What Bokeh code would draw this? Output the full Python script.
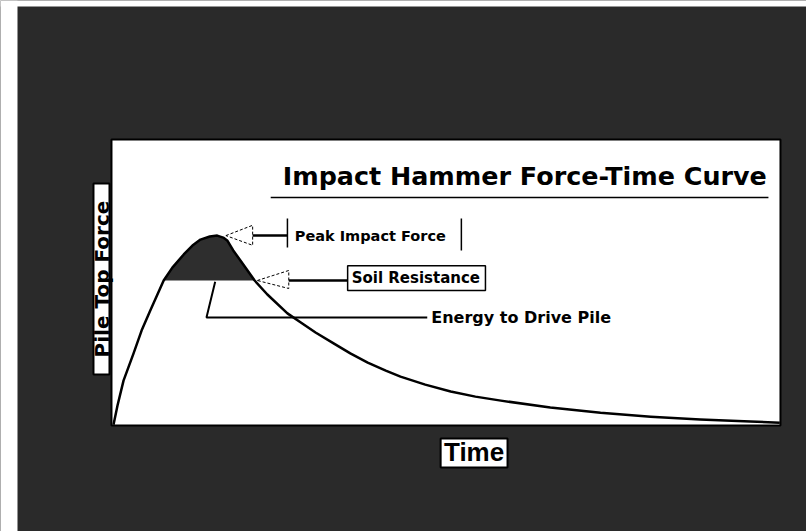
import math
from bokeh.plotting import figure
from bokeh.models import Range1d, Label, BoxAnnotation
from bokeh.embed import file_html
from bokeh.resources import INLINE

# ---- data (time and force in relative units) ----
time = [0.3, 0.9, 1.8, 3.3, 4.5, 5.8, 7.8, 9.1, 10.8, 12.1, 13.3, 14.7, 15.8,
        16.7, 17.3, 18.2, 19.7, 21.4, 23.3, 26.3, 28.3, 30.5, 33.2, 35.7,
        38.3, 41.0, 43.2, 46.9, 50.7, 54.4, 58.2, 65.6, 73.1, 80.6, 88.0,
        95.5, 99.9]
force = [0.3, 7.0, 15.7, 25.2, 33.2, 40.2, 50.7, 55.2, 59.8, 62.9, 65.0, 66.1,
         66.4, 65.7, 64.7, 61.2, 56.3, 50.7, 45.8, 39.2, 36.0, 32.5, 28.7,
         25.2, 22.0, 19.2, 17.1, 14.3, 11.9, 10.1, 8.7, 6.3, 4.5, 3.1, 2.1,
         1.4, 1.0]
soil_resistance = 50.7

title_text = "Impact Hammer Force-Time Curve"
x_label = "Time"
y_label = "Pile Top Force"
peak_text = "Peak Impact Force"
soil_text = "Soil Resistance"
energy_text = "Energy to Drive Pile"

DARK = "#2a2a2a"

p = figure(width=806, height=531, output_backend="svg", toolbar_location=None,
           x_axis_type=None, y_axis_type=None,
           x_range=Range1d(-16.59, 103.89), y_range=Range1d(-37.06, 148.6),
           min_border=0)
p.grid.visible = False
p.background_fill_color = DARK
p.border_fill_color = DARK
p.outline_line_color = None


def box(**kw):
    args = dict(fill_color="white", fill_alpha=1, line_color=None,
                line_alpha=1, level="underlay")
    args.update(kw)
    p.add_layout(BoxAnnotation(**args))


# white page margins of the scan (left and top) and the white chart panel
box(right=-14.05)
box(bottom=146.5)
box(left=0, right=100, bottom=0, top=100, line_color="black", line_width=2)

# energy region between curve and soil resistance level
sel = [(t, f) for t, f in zip(time, force) if f >= soil_resistance]
fill_t = [t for t, f in sel]
fill_f = [f for t, f in sel]
p.varea(x=fill_t, y1=[soil_resistance] * len(fill_t), y2=fill_f,
        fill_color="#2e2e2e")

# force-time curve
p.line(time, force, line_color="black", line_width=2.5, line_join="round")

# ---- peak annotation ----
pk_i = force.index(max(force))
pk_t, pk_f = time[pk_i], force[pk_i]
tip = pk_t + 1.3
p.line([tip, tip + 4.0, tip + 4.0, tip], [pk_f, pk_f + 3.6, pk_f - 3.4, pk_f],
       line_color="black", line_width=1, line_dash="3 2")
p.line([tip + 4.0, 26.3], [pk_f, pk_f], line_color="black", line_width=2.5)
p.line([26.3, 26.3], [pk_f + 6.0, pk_f - 4.2], line_color="black", line_width=1.5)
p.line([52.3, 52.3], [pk_f + 6.0, pk_f - 5.2], line_color="black", line_width=1.5)
p.add_layout(Label(x=27.4, y=pk_f, text=peak_text, text_font="DejaVu Sans",
                   text_font_style="bold", text_font_size="14.5px",
                   text_baseline="middle", text_color="black"))

# ---- soil resistance annotation ----
st = 21.8
p.line([st, st + 4.7, st + 4.7, st],
       [soil_resistance, soil_resistance + 3.5, soil_resistance - 2.8, soil_resistance],
       line_color="black", line_width=1, line_dash="3 2")
p.line([st + 4.7, 35.3], [soil_resistance, soil_resistance],
       line_color="black", line_width=2.5)
box(left=35.3, right=55.9, bottom=47.2, top=55.9, line_color="black",
    line_width=1.5, level="annotation")
p.add_layout(Label(x=35.9, y=soil_resistance + 0.9, text=soil_text,
                   text_font="DejaVu Sans", text_font_style="bold",
                   text_font_size="15px", text_baseline="middle",
                   text_color="black"))

# ---- energy annotation ----
p.line([15.5, 14.2, 47.2], [soil_resistance - 0.4, 37.8, 37.8],
       line_color="black", line_width=2)
p.add_layout(Label(x=47.8, y=37.6, text=energy_text, text_font="DejaVu Sans",
                   text_font_style="bold", text_font_size="16px",
                   text_baseline="middle", text_color="black"))

# ---- title ----
p.add_layout(Label(x=25.6, y=87.1, text=title_text, text_font="DejaVu Sans",
                   text_font_style="bold", text_font_size="25.4px",
                   text_baseline="middle", text_color="black"))
p.line([23.8, 98.2], [79.7, 79.7], line_color="black", line_width=1.5)

# ---- axis labels ----
box(left=-2.69, right=-0.3, bottom=17.8, top=84.6, line_color="black",
    line_width=2)
p.add_layout(Label(x=-1.45, y=51.2, text=y_label, angle=math.pi / 2,
                   text_font="DejaVu Sans", text_font_style="bold",
                   text_font_size="20px", text_align="center",
                   text_baseline="middle", text_color="black"))
box(left=49.2, right=59.2, bottom=-14.7, top=-4.5, line_color="black",
    line_width=2)
p.add_layout(Label(x=54.2, y=-9.4, text=x_label,
                   text_font="Liberation Sans", text_font_style="bold",
                   text_font_size="26px", text_align="center",
                   text_baseline="middle", text_color="black"))

open("out.html", "w").write(file_html(p, INLINE))
